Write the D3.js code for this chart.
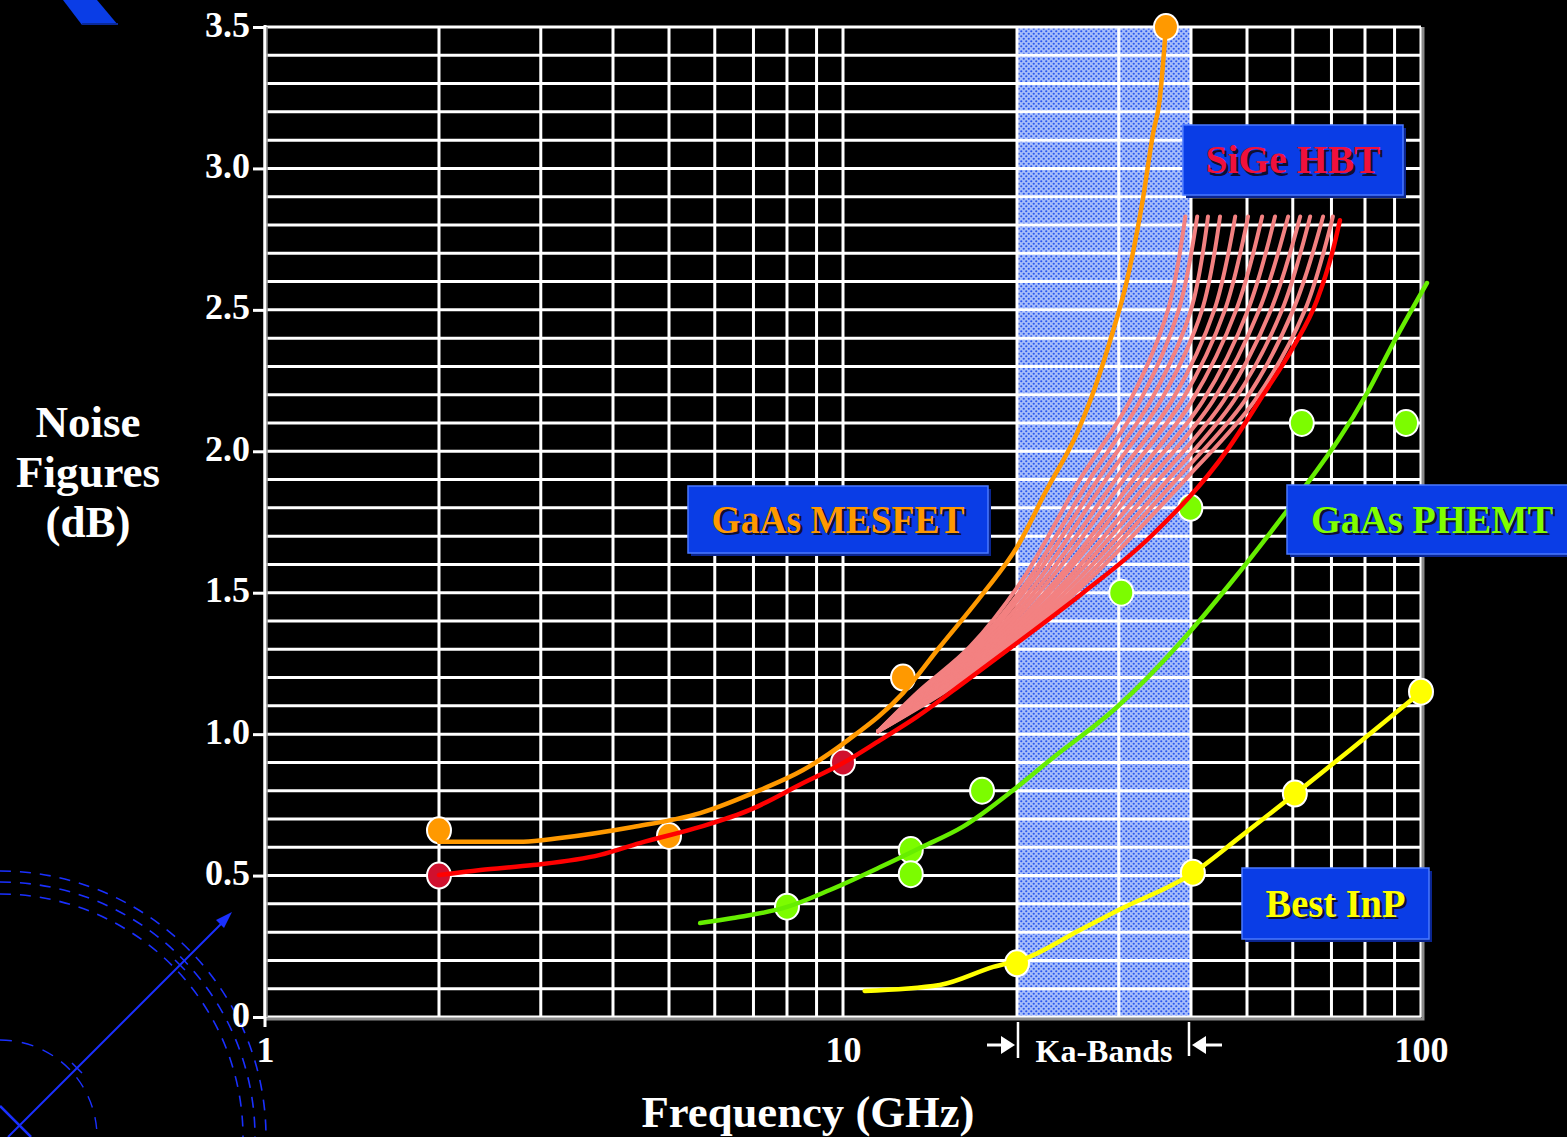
<!DOCTYPE html>
<html>
<head>
<meta charset="utf-8">
<script src="https://cdn.jsdelivr.net/npm/d3@7"></script>
<style>
  html, body { margin: 0; padding: 0; background: #000; }
  svg { display: block; }
  text { font-family: "Liberation Serif", "DejaVu Serif", serif; font-weight: bold; }
</style>
</head>
<body>
<div id="vis"></div>
<script>
const width = 1567;
const height = 1137;

// axis ticks
const yTicks = [0, 0.5, 1.0, 1.5, 2.0, 2.5, 3.0, 3.5];
const xTicks = [1, 10, 100];
const kaBand = [20, 40]; // GHz

// measured devices [GHz, dB]
const mesfetPoints = [[2, 0.66], [5, 0.64], [12.7, 1.2], [36.2, 3.5]];
const hbtPoints = [[2, 0.5], [10, 0.9]];
const phemtPoints = [[8, 0.39], [13.1, 0.59], [13.1, 0.505], [17.4, 0.8], [30.3, 1.5], [39.9, 1.8], [62.2, 2.1], [94.2, 2.1]];
const inpPoints = [[20, 0.19], [40.3, 0.51], [60.5, 0.79], [100, 1.15]];

// trend curves [GHz, dB]
const mesfetCurve = [[2.0, 0.62], [2.8, 0.62], [3.24, 0.633], [4.33, 0.672], [5.66, 0.721], [7.18, 0.802], [8.53, 0.873],
  [10.2, 0.979], [12.7, 1.145], [14.7, 1.308], [17.5, 1.499], [20, 1.661], [22.5, 1.863], [25.4, 2.064], [26.8, 2.181],
  [29.0, 2.393], [31.0, 2.605], [33.0, 2.888], [34.4, 3.125], [35.3, 3.241], [36.2, 3.5]];
const hbtCurve = [[2, 0.502], [2.36, 0.52], [2.91, 0.537], [3.8, 0.573], [4.45, 0.615], [5.66, 0.672], [6.9, 0.732],
  [8.53, 0.827], [10, 0.898], [11.6, 0.979], [13.4, 1.06], [16.4, 1.191], [20, 1.322], [26, 1.499], [34, 1.697],
  [46.2, 2.004], [53.3, 2.199], [60.1, 2.368], [66.1, 2.535], [70.4, 2.711], [72.4, 2.817]];
const phemtCurve = [[5.66, 0.332], [6.45, 0.35], [8.0, 0.389], [9.49, 0.449], [11.6, 0.53], [13.7, 0.601], [16.1, 0.672],
  [19.7, 0.802], [22.8, 0.908], [29.8, 1.096], [38.7, 1.333], [47.3, 1.545], [54.8, 1.711], [61.8, 1.852],
  [80.7, 2.206], [89.5, 2.382], [102.4, 2.595]];
const inpCurve = [[10.9, 0.092], [14.7, 0.113], [18.2, 0.177], [20.8, 0.209], [25.7, 0.308], [30.1, 0.38],
  [40.3, 0.509], [48.6, 0.636], [60.5, 0.788], [75.4, 0.944], [100, 1.149]];

// SiGe HBT spread: frequency of each curve at these noise levels
const hbtFanLevels = [1.01, 1.15, 1.31, 1.55, 1.90, 2.18, 2.50, 2.83];
const hbtFanFreqs = [
  [11.5, 13.5, 16.6, 20.5, 25.7, 31.4, 36.5, 39.1],
  [11.5, 13.6, 16.85, 21.0, 26.7, 32.7, 38.1, 41.0],
  [11.5, 13.7, 17.1, 21.4, 27.6, 34.1, 40.0, 42.8],
  [11.5, 13.9, 17.35, 21.9, 28.5, 35.5, 41.8, 44.9],
  [11.5, 14.0, 17.6, 22.4, 29.6, 37.1, 43.9, 47.7],
  [11.5, 14.1, 17.85, 22.9, 30.6, 38.6, 45.8, 50.2],
  [11.5, 14.2, 18.1, 23.5, 31.8, 40.2, 47.9, 53.1],
  [11.5, 14.4, 18.35, 23.9, 32.8, 42.0, 50.2, 55.9],
  [11.5, 14.5, 18.6, 24.5, 34.0, 43.7, 52.5, 58.9],
  [11.5, 14.6, 18.85, 25.0, 35.2, 45.6, 55.0, 61.8],
  [11.5, 14.8, 19.1, 25.6, 36.5, 47.5, 57.5, 64.3],
  [11.5, 14.9, 19.35, 26.2, 37.7, 49.6, 60.1, 67.7],
  [11.5, 15.0, 19.6, 26.8, 39.1, 51.6, 63.0, 70.4]
];

const labels = [
  { text: "GaAs MESFET", color: "#ff9900", box: [688, 486, 300, 67], len: 253 },
  { text: "SiGe HBT", color: "#f0103c", box: [1183, 125, 220, 70], len: 175 },
  { text: "GaAs PHEMT", color: "#80ff00", box: [1287, 485, 290, 69], len: 242 },
  { text: "Best InP", color: "#ffff00", box: [1242, 868, 187, 71], len: 140 }
];

const svg = d3.select("#vis")
  .append("svg")
  .attr("width", width)
  .attr("height", height);

const x = d3.scaleLog().domain([1, 100]).range([265, 1421]);
const y = d3.scaleLinear().domain([0, 3.5]).range([1017, 27]);

const defs = svg.append("defs");
const pat = defs.append("pattern")
  .attr("id", "kaDots")
  .attr("patternUnits", "userSpaceOnUse")
  .attr("width", 5).attr("height", 5);
pat.append("rect").attr("width", 5).attr("height", 5).attr("fill", "#a6bdfa");
pat.append("circle").attr("cx", 1.25).attr("cy", 1.25).attr("r", 1.1).attr("fill", "#2a56ee");
pat.append("circle").attr("cx", 3.75).attr("cy", 3.75).attr("r", 1.1).attr("fill", "#2a56ee");

// decoration top-left and bottom-left
svg.append("polygon")
  .attr("points", "63,0 97,0 118,25 82,25")
  .attr("fill", "#0a3de6");
svg.append("line").attr("x1", 82).attr("y1", 24).attr("x2", 118).attr("y2", 24)
  .attr("stroke", "#0a2a9a").attr("stroke-width", 2);

const deco = svg.append("g").attr("fill", "none").attr("stroke", "#1a30ff");
[243, 255, 266].forEach(r => {
  deco.append("path")
    .attr("d", `M0,${1137 - r} A${r},${r} 0 0 1 ${r},1137`)
    .attr("stroke-width", 1.6)
    .attr("stroke-dasharray", "11,9");
});
deco.append("path")
  .attr("d", "M0,1040 A97,97 0 0 1 97,1137")
  .attr("stroke-width", 1.4)
  .attr("stroke-dasharray", "12,10");
deco.append("line").attr("x1", 8).attr("y1", 1137).attr("x2", 222).attr("y2", 923).attr("stroke-width", 2);
deco.append("line").attr("x1", 0).attr("y1", 1106).attr("x2", 31).attr("y2", 1137).attr("stroke-width", 2.5);
deco.append("line").attr("x1", 72).attr("y1", 1063).attr("x2", 82).attr("y2", 1073).attr("stroke-width", 1.5);
deco.append("line").attr("x1", 175).attr("y1", 960).attr("x2", 185).attr("y2", 970).attr("stroke-width", 1.5);
svg.append("polygon")
  .attr("points", "232,912 216,920 224,928")
  .attr("fill", "#1a30ff");

// Ka band
svg.append("rect")
  .attr("x", x(kaBand[0]))
  .attr("y", y(3.5))
  .attr("width", x(kaBand[1]) - x(kaBand[0]))
  .attr("height", y(0) - y(3.5))
  .attr("fill", "url(#kaDots)");

// grid
const grid = svg.append("g").attr("stroke", "#fff").attr("stroke-width", 3);
grid.selectAll(".h")
  .data(y.ticks(35))
  .join("line")
  .attr("x1", x(1)).attr("x2", x(100))
  .attr("y1", d => y(d)).attr("y2", d => y(d));
grid.selectAll(".v")
  .data(x.ticks())
  .join("line")
  .attr("x1", d => x(d)).attr("x2", d => x(d))
  .attr("y1", y(3.5)).attr("y2", y(0));

// frame shadow
svg.append("path")
  .attr("d", `M${x(100) + 2},${y(3.5)} V${y(0) + 2} H${x(1)}`)
  .attr("fill", "none")
  .attr("stroke", "#8a8a8a")
  .attr("stroke-width", 3);
svg.append("line")
  .attr("x1", x(1)).attr("x2", x(1))
  .attr("y1", y(3.5) - 2).attr("y2", y(0) + 10)
  .attr("stroke", "#fff").attr("stroke-width", 3);
svg.append("line")
  .attr("x1", x(1) + 2).attr("x2", x(1) + 2)
  .attr("y1", y(3.5)).attr("y2", y(0))
  .attr("stroke", "#8a8a8a").attr("stroke-width", 1.5);

// axes
const yAxis = svg.append("g")
  .attr("transform", `translate(${x(1)},0)`)
  .call(d3.axisLeft(y).tickValues(yTicks).tickSize(12).tickPadding(3)
    .tickFormat(d => d === 0 ? "0" : d3.format(".1f")(d)));
yAxis.select(".domain").remove();
yAxis.selectAll("line").attr("stroke", "#fff").attr("stroke-width", 3);
yAxis.selectAll("text")
  .attr("fill", "#fff")
  .attr("font-size", 36)
  .attr("font-family", "Liberation Serif")
  .attr("font-weight", "bold")
  .attr("dy", "0.25em");

const xAxis = svg.append("g")
  .attr("transform", `translate(0,${y(0)})`)
  .call(d3.axisBottom(x).tickValues(xTicks).tickSize(0).tickFormat(d3.format("d")));
xAxis.select(".domain").remove();
xAxis.selectAll("text")
  .attr("fill", "#fff")
  .attr("font-size", 36)
  .attr("font-family", "Liberation Serif")
  .attr("font-weight", "bold")
  .attr("y", 45)
  .attr("dy", 0);

// Ka band marker
const ka = svg.append("g").attr("stroke", "#fff").attr("fill", "#fff");
ka.append("line").attr("x1", x(20) - 30).attr("x2", x(20) - 12).attr("y1", 1045).attr("y2", 1045).attr("stroke-width", 3);
ka.append("polygon").attr("stroke", "none")
  .attr("points", `${x(20) - 16},1036 ${x(20) - 2},1045 ${x(20) - 16},1054`);
ka.append("line").attr("x1", x(20) + 1).attr("x2", x(20) + 1).attr("y1", 1022).attr("y2", 1058).attr("stroke-width", 2.5);
ka.append("line").attr("x1", x(40) - 2).attr("x2", x(40) - 2).attr("y1", 1022).attr("y2", 1056).attr("stroke-width", 2.5);
ka.append("polygon").attr("stroke", "none")
  .attr("points", `${x(40) + 1},1045 ${x(40) + 15},1036 ${x(40) + 15},1054`);
ka.append("line").attr("x1", x(40) + 12).attr("x2", x(40) + 31).attr("y1", 1045).attr("y2", 1045).attr("stroke-width", 3);
svg.append("text")
  .attr("x", (x(20) + x(40)) / 2)
  .attr("y", 1062)
  .attr("text-anchor", "middle")
  .attr("fill", "#fff")
  .attr("font-size", 31)
  .attr("textLength", 137)
  .attr("lengthAdjust", "spacingAndGlyphs")
  .text("Ka-Bands");

// axis titles
svg.append("text")
  .attr("x", 808).attr("y", 1127)
  .attr("text-anchor", "middle")
  .attr("fill", "#fff")
  .attr("font-size", 45)
  .attr("textLength", 333)
  .attr("lengthAdjust", "spacingAndGlyphs")
  .text("Frequency (GHz)");

const yTitle = svg.append("text")
  .attr("text-anchor", "middle")
  .attr("fill", "#fff")
  .attr("font-size", 45);
[["Noise", 437], ["Figures", 487], ["(dB)", 537]].forEach(([t, by]) => {
  yTitle.append("tspan").attr("x", 88).attr("y", by).text(t);
});

// points
const dots = [
  [mesfetPoints, "#ff9900"],
  [hbtPoints, "#d0102e"],
  [phemtPoints, "#7cfc00"],
  [inpPoints, "#ffff00"]
];
dots.forEach(([pts, c]) => {
  svg.append("g").selectAll("ellipse")
    .data(pts)
    .join("ellipse")
    .attr("cx", d => x(d[0]))
    .attr("cy", d => y(d[1]))
    .attr("rx", 12)
    .attr("ry", 13)
    .attr("fill", c)
    .attr("stroke", "#fff")
    .attr("stroke-width", 2);
});

// curves
const line = d3.line()
  .x(d => x(d[0]))
  .y(d => y(d[1]))
  .curve(d3.curveMonotoneX);

const fanLine = d3.line()
  .x(d => x(d[0]))
  .y(d => y(d[1]))
  .curve(d3.curveCatmullRom.alpha(0.5));

svg.append("g").selectAll("path")
  .data(hbtFanFreqs.map(fs => fs.map((f, i) => [f, hbtFanLevels[i]])))
  .join("path")
  .attr("d", fanLine)
  .attr("fill", "none")
  .attr("stroke", "#f38181")
  .attr("stroke-width", 4)
  .attr("stroke-linecap", "round");

const curves = [
  [hbtCurve, "#ff0000"],
  [mesfetCurve, "#ff9900"],
  [phemtCurve, "#66ee00"],
  [inpCurve, "#ffff00"]
];
curves.forEach(([pts, c]) => {
  svg.append("path")
    .datum(pts)
    .attr("d", line)
    .attr("fill", "none")
    .attr("stroke", c)
    .attr("stroke-width", 4.5)
    .attr("stroke-linecap", "round");
});

// device labels
labels.forEach(l => {
  const [bx, by, bw, bh] = l.box;
  const g = svg.append("g");
  g.append("rect")
    .attr("x", bx + 3).attr("y", by + 3)
    .attr("width", bw).attr("height", bh)
    .attr("fill", "#0a2590");
  g.append("rect")
    .attr("x", bx).attr("y", by)
    .attr("width", bw).attr("height", bh)
    .attr("fill", "#0a3de6")
    .attr("stroke", "#4a78ff")
    .attr("stroke-width", 1.5);
  const cx = bx + bw / 2;
  const ty = by + bh / 2 + 13;
  [["#101030", 2.5], [l.color, 0]].forEach(([fill, off]) => {
    g.append("text")
      .attr("x", cx + off).attr("y", ty + off)
      .attr("text-anchor", "middle")
      .attr("fill", fill)
      .attr("font-size", 40)
      .attr("textLength", l.len)
      .attr("lengthAdjust", "spacingAndGlyphs")
      .text(l.text);
  });
});
</script>
</body>
</html>
